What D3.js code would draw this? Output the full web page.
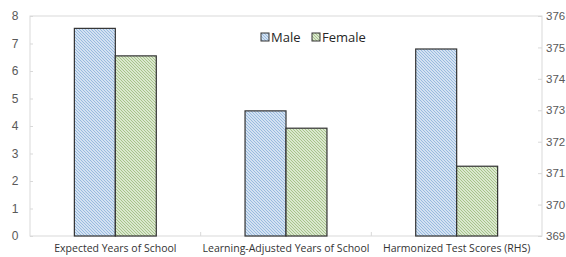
<!DOCTYPE html>
<html>
<head>
<meta charset="utf-8">
<script src="https://cdn.jsdelivr.net/npm/d3@7"></script>
<style>
  body { margin: 0; background: #fff; }
  svg { display: block; font-family: "Open Sans", "Liberation Sans", sans-serif; }
</style>
</head>
<body>
<svg id="chart"></svg>
<script>
// Chart values
const categories = ["Expected Years of School", "Learning-Adjusted Years of School", "Harmonized Test Scores (RHS)"];
const seriesNames = ["Male", "Female"];
const maleValues = [7.55, 4.55, 374.95];
const femaleValues = [6.55, 3.92, 371.22];
const onRightAxis = [false, false, true];
const leftTicks = [0, 1, 2, 3, 4, 5, 6, 7, 8];
const rightTicks = [369, 370, 371, 372, 373, 374, 375, 376];

const config = {
  width: 566,
  height: 257,
  margin: { top: 16, right: 24, bottom: 21, left: 30 }
};

const svg = d3.select("#chart")
    .attr("width", config.width)
    .attr("height", config.height);

const innerW = config.width - config.margin.left - config.margin.right;
const innerH = config.height - config.margin.top - config.margin.bottom;

const defs = svg.append("defs");
// wide downward diagonal hatches
function hatch(id, bg, fg) {
  const p = defs.append("pattern")
      .attr("id", id)
      .attr("patternUnits", "userSpaceOnUse")
      .attr("width", 3)
      .attr("height", 3);
  p.append("rect").attr("width", 3).attr("height", 3).attr("fill", bg);
  p.append("path")
      .attr("d", "M-1,-1 L4,4 M-1,2 L1,4 M2,-1 L4,1")
      .attr("stroke", fg)
      .attr("stroke-width", 1.1);
}
hatch("hMale", "#edf3fa", "#94b8de");
hatch("hFemale", "#f1f6ec", "#a3c286");
const fills = { Male: "url(#hMale)", Female: "url(#hFemale)" };

const g = svg.append("g")
    .attr("transform", `translate(${config.margin.left},${config.margin.top})`);

const x0 = d3.scaleBand()
    .domain(categories)
    .range([0, innerW])
    .paddingInner(0.52)
    .paddingOuter(0.26);
const x1 = d3.scaleBand()
    .domain(seriesNames)
    .range([0, x0.bandwidth()]);
const catStep = innerW / categories.length;

const yLeft = d3.scaleLinear().domain([0, 8]).range([innerH, 0]);
const yRight = d3.scaleLinear().domain([369, 376]).range([innerH, 0]);

// plot frame
g.append("rect")
    .attr("x", 0).attr("y", 0)
    .attr("width", innerW).attr("height", innerH)
    .attr("fill", "none")
    .attr("stroke", "#d9d9d9")
    .attr("stroke-width", 1);

// left axis
const yAxisL = g.append("g")
    .call(d3.axisRight(yLeft).tickValues(leftTicks).tickSize(3).tickFormat(d3.format("d")));
yAxisL.select(".domain").remove();
yAxisL.selectAll("line").attr("stroke", "#d9d9d9");
yAxisL.selectAll("text")
    .attr("x", -15).attr("text-anchor", "middle")
    .attr("fill", "#595959").style("font-size", "12px");

// right axis
const yAxisR = g.append("g")
    .attr("transform", `translate(${innerW},0)`)
    .call(d3.axisLeft(yRight).tickValues(rightTicks).tickSize(4).tickFormat(d3.format("d")));
yAxisR.select(".domain").remove();
yAxisR.selectAll("line").attr("stroke", "#d9d9d9");
yAxisR.selectAll("text")
    .attr("x", 4).attr("text-anchor", "start")
    .attr("fill", "#595959").style("font-size", "11.5px");

// category boundary ticks
g.selectAll(".catTick")
    .data(d3.range(1, categories.length))
    .join("line")
    .attr("class", "catTick")
    .attr("x1", d => d * catStep).attr("x2", d => d * catStep)
    .attr("y1", innerH).attr("y2", innerH - 4)
    .attr("stroke", "#d9d9d9");

g.selectAll(".catLabel")
    .data(categories)
    .join("text")
    .attr("class", "catLabel")
    .attr("x", d => x0(d) + x0.bandwidth() / 2)
    .attr("y", innerH + 16)
    .attr("text-anchor", "middle")
    .attr("fill", "#333")
    .style("font-size", "10.5px")
    .text(d => d);

const barData = [];
categories.forEach((c, i) => {
  const y = onRightAxis[i] ? yRight : yLeft;
  barData.push({ cat: c, s: "Male", v: maleValues[i], y: y });
  barData.push({ cat: c, s: "Female", v: femaleValues[i], y: y });
});

g.selectAll(".bar")
    .data(barData)
    .join("rect")
    .attr("class", "bar")
    .attr("x", d => x0(d.cat) + x1(d.s))
    .attr("y", d => d.y(d.v))
    .attr("width", x1.bandwidth())
    .attr("height", d => innerH - d.y(d.v))
    .attr("fill", d => fills[d.s])
    .attr("stroke", "#333")
    .attr("stroke-width", 1.2);

// legend
const legend = svg.append("g").attr("transform", "translate(261,33)");
const legendX = [0, 51];
seriesNames.forEach((s, i) => {
  const lg = legend.append("g").attr("transform", `translate(${legendX[i]},0)`);
  lg.append("rect")
      .attr("width", 8).attr("height", 8)
      .attr("fill", fills[s])
      .attr("stroke", "#333").attr("stroke-width", 1);
  lg.append("text")
      .attr("x", 10).attr("y", 8.5)
      .attr("fill", "#262626")
      .style("font-size", "13px")
      .text(s);
});
</script>
</body>
</html>
